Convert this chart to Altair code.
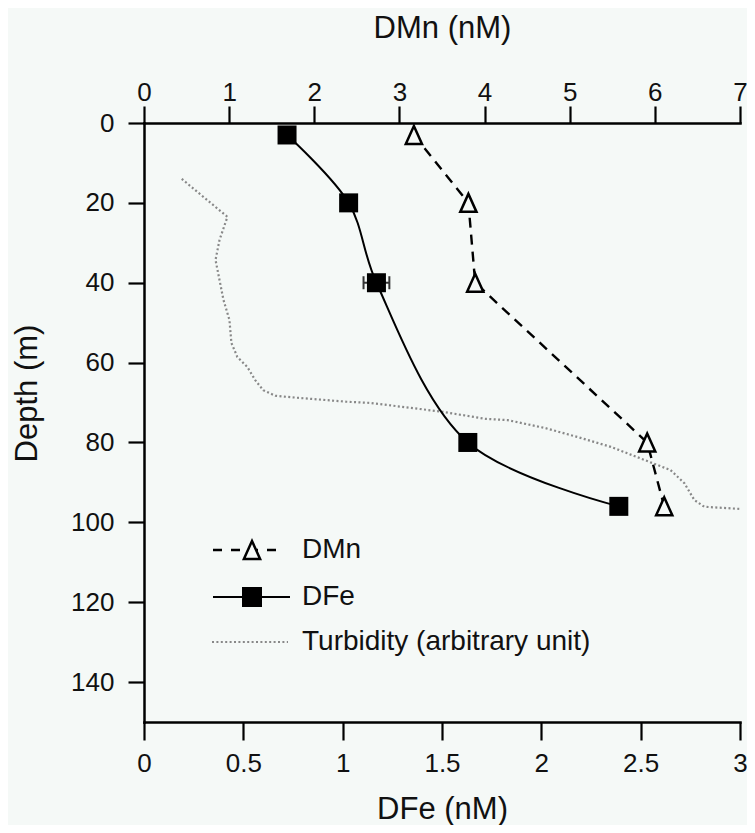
import altair as alt
import pandas as pd

# ---------------- data ----------------
depth_dfe = [3, 20, 40, 80, 96]
dfe = [0.72, 1.03, 1.17, 1.63, 2.39]
err_depth = [40]
err_dfe = [1.17]
err_size = [0.065]

depth_dmn = [3, 20, 40, 80, 96]
dmn = [3.17, 3.81, 3.89, 5.91, 6.11]

turb_depth = [14.0, 23.5, 29.3, 34.3, 39.3, 44.3, 49.3, 55.1, 58.6, 61.1, 64.4,
              66.9, 68.3, 68.8, 69.8, 70.1, 72.3, 74.1, 74.4, 76.4, 78.6, 81.1,
              84.4, 86.9, 90.2, 94.4, 96.1, 96.7]
turb = [0.19, 0.42, 0.38, 0.36, 0.38, 0.40, 0.43, 0.44, 0.47, 0.52, 0.56,
        0.60, 0.66, 0.77, 1.02, 1.14, 1.50, 1.72, 1.83, 2.02, 2.18, 2.35,
        2.52, 2.65, 2.72, 2.77, 2.82, 3.02]

dfe_ticks = [0, 0.5, 1, 1.5, 2, 2.5, 3]
dmn_ticks = [0, 1, 2, 3, 4, 5, 6, 7]
depth_ticks = [0, 20, 40, 60, 80, 100, 120, 140]

legend_labels = ["DMn", "DFe", "Turbidity (arbitrary unit)"]

# ---------------- tables ----------------
df_fe = pd.DataFrame({"depth": depth_dfe, "val": dfe})
df_mn = pd.DataFrame({"depth": depth_dmn, "val": dmn})
df_turb = pd.DataFrame({"depth": turb_depth, "val": turb})
df_err = pd.DataFrame({"depth": err_depth,
                       "lo": [v - e for v, e in zip(err_dfe, err_size)],
                       "hi": [v + e for v, e in zip(err_dfe, err_size)]})
df_cap = pd.DataFrame({"depth": err_depth * 2,
                       "val": list(df_err["lo"]) + list(df_err["hi"])})

FONT = "Liberation Sans"
TXT = "#111111"
BG = "#f5f9f7"
TRI = "M0,-1L-0.9,1L0.9,1Z"

y_scale = alt.Scale(domain=[0, 150], reverse=True, nice=False, zero=False)
y_axis = alt.Axis(values=depth_ticks, title="Depth (m)", orient="left",
                  tickSize=16, labelPadding=14, labelFontSize=26,
                  titleFontSize=31, titleAngle=-90, titleX=-108, titleY=270,
                  titleBaseline="alphabetic", titleAlign="center")
Y = alt.Y("depth:Q", scale=y_scale, axis=y_axis)

fe_scale = alt.Scale(domain=[0, 3], nice=False, zero=False)
fe_axis = alt.Axis(values=dfe_ticks, format="~g", title="DFe (nM)", orient="bottom",
                   tickSize=18, labelPadding=10, labelFontSize=26, labelBaseline="top",
                   titleFontSize=31, titleY=96, titleBaseline="alphabetic")
XF = alt.X("val:Q", scale=fe_scale, axis=fe_axis)

mn_scale = alt.Scale(domain=[0, 7], nice=False, zero=False)
mn_axis = alt.Axis(values=dmn_ticks, format="d", title="DMn (nM)", orient="top",
                   tickSize=17, labelPadding=6, labelFontSize=26,
                   labelBaseline="alphabetic",
                   titleFontSize=31, titleY=-86, titleBaseline="alphabetic")
XM = alt.X("val:Q", scale=mn_scale, axis=mn_axis)

turb_line = alt.Chart(df_turb).mark_line(
    color="#888888", strokeWidth=2.2, strokeDash=[2, 2.4], clip=True
).encode(x=XF, y=Y, order="depth:Q")

fe_line = alt.Chart(df_fe).mark_line(
    color="#000000", strokeWidth=2, interpolate="catmull-rom"
).encode(x=XF, y=Y, order="depth:Q")

err_rule = alt.Chart(df_err).mark_rule(color="#333333", strokeWidth=2).encode(
    x=alt.X("lo:Q", scale=fe_scale, axis=fe_axis), x2="hi:Q", y=Y)
err_caps = alt.Chart(df_cap).mark_tick(
    orient="vertical", size=13, thickness=2, color="#333333", opacity=1
).encode(x=XF, y=Y)

fe_pts = alt.Chart(df_fe).mark_point(
    shape="square", size=361, filled=True, color="#000000", opacity=1
).encode(x=XF, y=Y)

mn_line = alt.Chart(df_mn).mark_line(
    color="#000000", strokeWidth=2.4, strokeDash=[10, 7]
).encode(x=XM, y=Y, order="depth:Q")

mn_pts = alt.Chart(df_mn).mark_point(
    shape=TRI, size=324, filled=False, fill=BG, fillOpacity=1,
    stroke="#000000", strokeWidth=2.5, opacity=1
).encode(x=XM, y=Y)

fe_group = alt.layer(turb_line, fe_line, err_rule, err_caps, fe_pts)
mn_group = alt.layer(mn_line, mn_pts)

# ---------------- manual legend ----------------
lg_y = [427, 474, 519]
one = pd.DataFrame({"k": [0]})

leg = []
leg.append(alt.Chart(one).mark_rule(color="#000000", strokeWidth=2.4, strokeDash=[9, 9]).encode(
    x=alt.value(69), x2=alt.value(139), y=alt.value(lg_y[0])))
leg.append(alt.Chart(one).mark_point(shape=TRI, size=324, filled=False, fill=BG, fillOpacity=1,
                                     stroke="#000000", strokeWidth=2.5, opacity=1).encode(
    x=alt.value(108), y=alt.value(lg_y[0])))
leg.append(alt.Chart(one).mark_rule(color="#000000", strokeWidth=2).encode(
    x=alt.value(69), x2=alt.value(146), y=alt.value(lg_y[1])))
leg.append(alt.Chart(one).mark_point(shape="square", size=400, filled=True, color="#000000",
                                     opacity=1).encode(
    x=alt.value(108), y=alt.value(lg_y[1])))
leg.append(alt.Chart(one).mark_rule(color="#888888", strokeWidth=2.2, strokeDash=[2, 2.4]).encode(
    x=alt.value(68), x2=alt.value(144), y=alt.value(lg_y[2])))
for lab, yy in zip(legend_labels, lg_y):
    leg.append(alt.Chart(pd.DataFrame({"label": [lab]})).mark_text(
        align="left", baseline="middle", fontSize=28, font=FONT, color=TXT
    ).encode(text="label:N", x=alt.value(158), y=alt.value(yy)))

chart = alt.layer(fe_group, mn_group, *leg).resolve_scale(x="independent").properties(
    width=596, height=599,
    autosize=alt.AutoSizeParams(type="none"),
    padding={"left": 136, "top": 115, "right": 7, "bottom": 103},
    background=BG,
).configure_view(stroke=None).configure_axis(
    labelFont=FONT, titleFont=FONT, labelColor=TXT, titleColor=TXT,
    titleFontWeight="normal", domainColor="#000000", tickColor="#000000",
    domainWidth=2.5, tickWidth=2.2, grid=False, labelFlush=False, labelOverlap=False,
    domainCap="square",
)

chart.save("out.html", embed_options={"renderer": "svg", "actions": False})
